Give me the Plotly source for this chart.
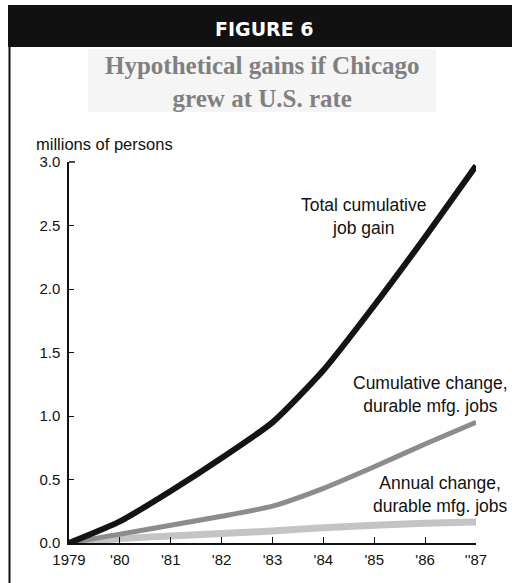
import plotly.graph_objects as go

years = [1979, 1980, 1981, 1982, 1983, 1984, 1985, 1986, 1987]
tick_labels = ["1979", "'80", "'81", "'82", "'83", "'84", "'85", "'86", "''87"]
y_ticks = [0.0, 0.5, 1.0, 1.5, 2.0, 2.5, 3.0]
y_tick_labels = ["0.0", "0.5", "1.0", "1.5", "2.0", "2.5", "3.0"]

total_cumulative = [0.0, 0.17, 0.41, 0.67, 0.95, 1.36, 1.87, 2.41, 2.97]
cumulative_durable = [0.0, 0.07, 0.14, 0.21, 0.29, 0.43, 0.60, 0.78, 0.95]
annual_durable = [0.0, 0.035, 0.055, 0.075, 0.095, 0.12, 0.14, 0.155, 0.165]

W, H = 512, 583
L, R, T, B = 69, 476, 162, 543

def px(x):
    return (x - L) / (R - L)

def py(y):
    return (B - y) / (B - T)

fig = go.Figure()
fig.add_trace(go.Scatter(x=years, y=annual_durable, mode="lines",
                         line=dict(color="#c4c4c4", width=7, shape="spline", smoothing=0.6),
                         cliponaxis=False))
fig.add_trace(go.Scatter(x=years, y=cumulative_durable, mode="lines",
                         line=dict(color="#8c8c8c", width=5, shape="spline", smoothing=0.6),
                         cliponaxis=False))
fig.add_trace(go.Scatter(x=years, y=total_cumulative, mode="lines",
                         line=dict(color="#141414", width=6, shape="spline", smoothing=0.6),
                         cliponaxis=False))

font = "Liberation Sans, Arial, sans-serif"
fig.update_layout(
    width=W, height=H, showlegend=False,
    margin=dict(l=L, r=W - R, t=T, b=H - B, pad=0),
    paper_bgcolor="white", plot_bgcolor="white",
    font=dict(family=font, color="#111111", size=15),
    xaxis=dict(range=[1979, 1987], tickmode="array", tickvals=years, ticktext=tick_labels,
               showgrid=False, zeroline=False, showline=True, linecolor="#111111", linewidth=1.5,
               ticks="inside", ticklen=6, tickwidth=1.3, tickcolor="#111111",
               tickfont=dict(size=15, family=font), ticklabelstandoff=2),
    yaxis=dict(range=[0, 3], tickmode="array", tickvals=y_ticks, ticktext=y_tick_labels,
               showgrid=False, zeroline=False, showline=True, linecolor="#111111", linewidth=1.5,
               ticks="inside", ticklen=5, tickwidth=1.3, tickcolor="#111111",
               tickfont=dict(size=15, family=font), ticklabelstandoff=4),
)

shapes = [
    dict(type="rect", xref="paper", yref="paper", x0=px(8), x1=px(512), y0=py(47), y1=py(5),
         fillcolor="#111111", line=dict(width=0), layer="below"),
    dict(type="rect", xref="paper", yref="paper", x0=px(88), x1=px(436), y0=py(112), y1=py(49),
         fillcolor="#f5f5f5", line=dict(width=0), layer="below"),
    dict(type="line", xref="paper", yref="paper", x0=px(9.5), x1=px(9.5), y0=py(583), y1=py(47),
         line=dict(color="#111111", width=2)),
    dict(type="line", xref="paper", yref="paper", x0=px(69), x1=px(75), y0=1, y1=1,
         line=dict(color="#111111", width=1.5)),
]
fig.update_layout(shapes=shapes)

title_font = dict(size=25, color="#808080", family="Liberation Serif, Times New Roman, serif")
ann_font = dict(size=17.5, family=font)
ann = [
    dict(text="<b>FIGURE 6</b>", x=px(264), y=py(29), font=dict(size=19, color="white",
         family="DejaVu Sans, sans-serif")),
    dict(text="<b>Hypothetical gains if Chicago<br>grew at U.S. rate</b>", x=px(262), y=py(82),
         font=title_font),
    dict(text="millions of persons", x=px(34), y=py(144), xanchor="left",
         font=dict(size=16.5, family=font)),
    dict(text="Total cumulative<br>job gain", x=px(363), y=py(216), font=ann_font),
    dict(text="Cumulative change,<br>durable mfg. jobs", x=px(430), y=py(394), font=ann_font),
    dict(text="Annual change,<br>durable mfg. jobs", x=px(440), y=py(494), font=ann_font),
]
for a in ann:
    a.setdefault("xanchor", "center")
    fig.add_annotation(xref="paper", yref="paper", showarrow=False, yanchor="middle", **a)

fig.write_html("out.html", config={"displayModeBar": False},
               post_script="document.body.style.margin='0';document.body.style.overflow='hidden';")
